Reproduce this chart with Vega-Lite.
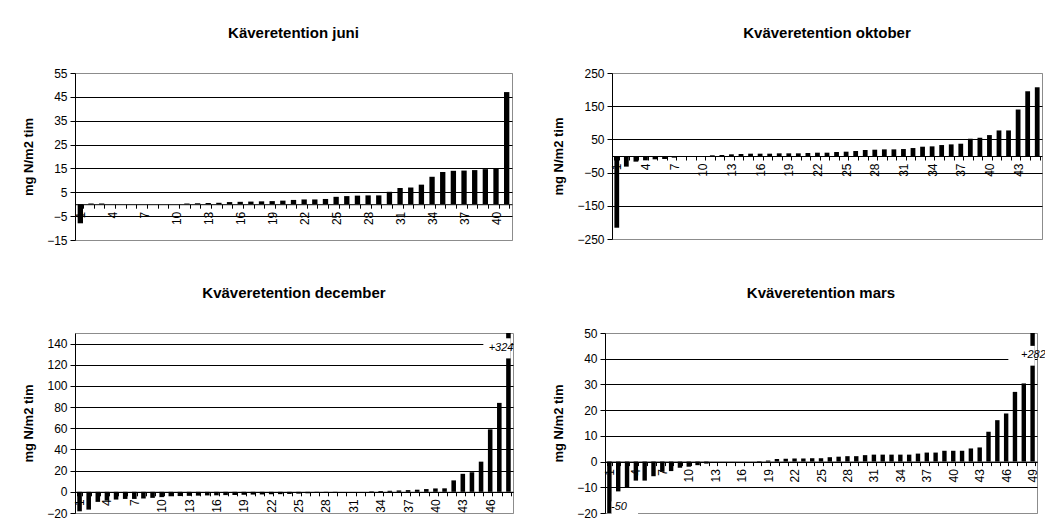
{
  "$schema": "https://vega.github.io/schema/vega-lite/v6.json",
  "padding": {"left": 22, "top": 25, "right": 0, "bottom": 0},
  "spacing": 38,
  "datasets": {
    "juni": [
      {"n":1,"v":-8},{"n":2,"v":0.3},{"n":3,"v":0.3},{"n":4,"v":0},{"n":5,"v":0},{"n":6,"v":0},{"n":7,"v":0},{"n":8,"v":0},{"n":9,"v":0},{"n":10,"v":0},
      {"n":11,"v":0.3},{"n":12,"v":0.4},{"n":13,"v":0.5},{"n":14,"v":0.6},{"n":15,"v":0.9},{"n":16,"v":1.0},{"n":17,"v":1.1},{"n":18,"v":1.2},{"n":19,"v":1.3},{"n":20,"v":1.5},
      {"n":21,"v":1.8},{"n":22,"v":2.0},{"n":23,"v":2.0},{"n":24,"v":2.2},{"n":25,"v":3.1},{"n":26,"v":3.4},{"n":27,"v":3.6},{"n":28,"v":3.7},{"n":29,"v":3.7},{"n":30,"v":5.2},
      {"n":31,"v":6.8},{"n":32,"v":7.0},{"n":33,"v":8.2},{"n":34,"v":11.5},{"n":35,"v":13.5},{"n":36,"v":14.0},{"n":37,"v":14.1},{"n":38,"v":14.3},{"n":39,"v":14.7},{"n":40,"v":15.0},
      {"n":41,"v":47}
    ],
    "oktober": [
      {"n":1,"v":-216},{"n":2,"v":-32},{"n":3,"v":-17},{"n":4,"v":-13},{"n":5,"v":-10},{"n":6,"v":-9},{"n":7,"v":-5},{"n":8,"v":-1},{"n":9,"v":0},{"n":10,"v":0},
      {"n":11,"v":2},{"n":12,"v":3},{"n":13,"v":5},{"n":14,"v":6},{"n":15,"v":7},{"n":16,"v":7},{"n":17,"v":7},{"n":18,"v":8},{"n":19,"v":8},{"n":20,"v":8},
      {"n":21,"v":9},{"n":22,"v":10},{"n":23,"v":10},{"n":24,"v":12},{"n":25,"v":13},{"n":26,"v":15},{"n":27,"v":18},{"n":28,"v":19},{"n":29,"v":20},{"n":30,"v":20},
      {"n":31,"v":21},{"n":32,"v":24},{"n":33,"v":28},{"n":34,"v":29},{"n":35,"v":33},{"n":36,"v":35},{"n":37,"v":37},{"n":38,"v":52},{"n":39,"v":55},{"n":40,"v":63},
      {"n":41,"v":77},{"n":42,"v":77},{"n":43,"v":140},{"n":44,"v":195},{"n":45,"v":207}
    ],
    "december": [
      {"n":1,"v":-18.4},{"n":2,"v":-16.8},{"n":3,"v":-9.5},{"n":4,"v":-8.3},{"n":5,"v":-7.3},{"n":6,"v":-6.7},{"n":7,"v":-6.7},{"n":8,"v":-6.3},{"n":9,"v":-5.7},{"n":10,"v":-5.0},
      {"n":11,"v":-4.2},{"n":12,"v":-4.0},{"n":13,"v":-3.8},{"n":14,"v":-3.6},{"n":15,"v":-3.4},{"n":16,"v":-3.3},{"n":17,"v":-3.1},{"n":18,"v":-3.0},{"n":19,"v":-2.8},{"n":20,"v":-2.6},
      {"n":21,"v":-2.5},{"n":22,"v":-2.3},{"n":23,"v":-2.2},{"n":24,"v":-2.0},{"n":25,"v":-1.7},{"n":26,"v":-1.4},{"n":27,"v":-1.1},{"n":28,"v":-0.7},{"n":29,"v":-0.3},{"n":30,"v":0},
      {"n":31,"v":0},{"n":32,"v":0},{"n":33,"v":0.5},{"n":34,"v":0.8},{"n":35,"v":1.0},{"n":36,"v":1.3},{"n":37,"v":1.6},{"n":38,"v":2.0},{"n":39,"v":2.6},{"n":40,"v":3.2},
      {"n":41,"v":3.3},{"n":42,"v":10.8},{"n":43,"v":17},{"n":44,"v":18.5},{"n":45,"v":28.5},{"n":46,"v":59},{"n":47,"v":84},{"n":48,"v":324}
    ],
    "mars": [
      {"n":1,"v":-50},{"n":2,"v":-11.6},{"n":3,"v":-10},{"n":4,"v":-7.4},{"n":5,"v":-7.4},{"n":6,"v":-5.7},{"n":7,"v":-4.0},{"n":8,"v":-3.7},{"n":9,"v":-2.4},{"n":10,"v":-2.0},
      {"n":11,"v":-1.4},{"n":12,"v":-0.8},{"n":13,"v":0},{"n":14,"v":0},{"n":15,"v":0},{"n":16,"v":0},{"n":17,"v":0},{"n":18,"v":0.2},{"n":19,"v":0.4},{"n":20,"v":1.0},
      {"n":21,"v":1.1},{"n":22,"v":1.2},{"n":23,"v":1.2},{"n":24,"v":1.3},{"n":25,"v":1.3},{"n":26,"v":1.7},{"n":27,"v":1.9},{"n":28,"v":2.1},{"n":29,"v":2.1},{"n":30,"v":2.5},
      {"n":31,"v":2.7},{"n":32,"v":2.7},{"n":33,"v":2.7},{"n":34,"v":2.7},{"n":35,"v":2.7},{"n":36,"v":3.1},{"n":37,"v":3.5},{"n":38,"v":3.5},{"n":39,"v":4.2},{"n":40,"v":4.2},
      {"n":41,"v":4.2},{"n":42,"v":5.1},{"n":43,"v":5.5},{"n":44,"v":11.6},{"n":45,"v":16.1},{"n":46,"v":18.7},{"n":47,"v":27.1},{"n":48,"v":30.4},{"n":49,"v":282}
    ],
    "decMask": [{"n":45,"n2":48,"v":126,"v2":145}],
    "decText": [{"n":48,"v":136,"t":"+324"}],
    "marsMask": [{"n":46,"n2":49,"v":37.3,"v2":45},{"n":1,"n2":4,"v":-21,"v2":-15.5}],
    "marsText": [{"n":49,"v":41.5,"t":"+282"},{"n":2,"v":-17.8,"t":"-50"}]
  },
  "vconcat": [
    {
      "spacing": 38,
      "hconcat": [
        {
          "width": 437, "height": 167,
          "title": {"text": "Käveretention juni", "offset": 26},
          "data": {"name": "juni"},
          "mark": {"type": "bar", "clip": true},
          "encoding": {
            "x": {"field": "n", "type": "ordinal", "scale": {"paddingInner": 0.5, "paddingOuter": 0.25},
              "axis": {"title": null, "labelAngle": -90, "labelExpr": "(datum.value - 1) % 3 == 0 ? datum.label : ''", "tickBand": "extent", "tickSize": 4, "labelPadding": 3, "offset": -35.8, "labelOverlap": false, "labelFlush": false}},
            "y": {"field": "v", "type": "quantitative", "scale": {"domain": [-15, 55], "nice": false},
              "axis": {"title": "mg N/m2 tim", "labelOverlap": false, "values": [-15, -5, 5, 15, 25, 35, 45, 55], "gridColor": {"condition": {"test": "datum.value == 55 || datum.value == -15", "value": "#8c8c8c"}, "value": "black"}}}
          }
        },
        {
          "width": 430, "height": 166,
          "title": {"text": "Kväveretention oktober", "offset": 26},
          "data": {"name": "oktober"},
          "mark": {"type": "bar", "clip": true},
          "encoding": {
            "x": {"field": "n", "type": "ordinal", "scale": {"paddingInner": 0.5, "paddingOuter": 0.25},
              "axis": {"title": null, "labelAngle": -90, "labelExpr": "(datum.value - 1) % 3 == 0 ? datum.label : ''", "tickBand": "extent", "tickSize": 4, "labelPadding": 3, "offset": -83, "labelOverlap": false, "labelFlush": false}},
            "y": {"field": "v", "type": "quantitative", "scale": {"domain": [-250, 250], "nice": false},
              "axis": {"title": "mg N/m2 tim", "labelOverlap": false, "values": [-250, -150, -50, 50, 150, 250], "gridColor": {"condition": {"test": "datum.value == 250 || datum.value == -250", "value": "#8c8c8c"}, "value": "black"}}}
          }
        }
      ]
    },
    {
      "spacing": 37,
      "hconcat": [
        {
          "width": 438, "height": 180,
          "title": {"text": "Kväveretention december", "offset": 32},
          "encoding": {
            "x": {"field": "n", "type": "ordinal", "scale": {"paddingInner": 0.5, "paddingOuter": 0.25},
              "axis": {"title": null, "labelAngle": -90, "labelExpr": "(datum.value - 1) % 3 == 0 ? datum.label : ''", "tickBand": "extent", "tickSize": 4, "labelPadding": 3, "offset": -21.2, "labelOverlap": false, "labelFlush": false}},
            "y": {"field": "v", "type": "quantitative", "scale": {"domain": [-20, 150], "nice": false},
              "axis": {"title": "mg N/m2 tim", "labelOverlap": false, "values": [-20, 0, 20, 40, 60, 80, 100, 120, 140], "gridColor": {"condition": {"test": "datum.value == -20", "value": "#8c8c8c"}, "value": "black"}}}
          },
          "layer": [
            {
              "data": {"name": "december"},
              "mark": {"type": "bar", "clip": true}
            },
            {
              "data": {"name": "decMask"},
              "mark": {"type": "rect", "color": "white"},
              "encoding": {
                "x": {"field": "n", "type": "ordinal", "bandPosition": 1,
                  "axis": {"title": null, "labelAngle": -90, "labelExpr": "(datum.value - 1) % 3 == 0 ? datum.label : ''", "tickBand": "extent", "tickSize": 4, "labelPadding": 3, "offset": -21.2, "labelOverlap": false, "labelFlush": false}},
                "x2": {"field": "n2", "bandPosition": 1},
                "y2": {"field": "v2"}
              }
            },
            {
              "data": {"name": "decText"},
              "mark": {"type": "text", "align": "right", "baseline": "middle", "dx": 5, "fontStyle": "italic", "fontSize": 11},
              "encoding": {"text": {"field": "t"}}
            }
          ]
        },
        {
          "width": 432, "height": 180,
          "title": {"text": "Kväveretention mars", "offset": 26},
          "encoding": {
            "x": {"field": "n", "type": "ordinal", "scale": {"paddingInner": 0.5, "paddingOuter": 0.25},
              "axis": {"title": null, "labelAngle": -90, "labelExpr": "(datum.value - 1) % 3 == 0 ? datum.label : ''", "tickBand": "extent", "tickSize": 4, "labelPadding": 3, "offset": -51.4, "labelOverlap": false, "labelFlush": false}},
            "y": {"field": "v", "type": "quantitative", "scale": {"domain": [-20, 50], "nice": false},
              "axis": {"title": "mg N/m2 tim", "labelOverlap": false, "values": [-20, -10, 0, 10, 20, 30, 40, 50], "gridColor": {"condition": {"test": "datum.value == -20 || datum.value == 50", "value": "#8c8c8c"}, "value": "black"}}}
          },
          "layer": [
            {
              "data": {"name": "mars"},
              "mark": {"type": "bar", "clip": true}
            },
            {
              "data": {"name": "marsMask"},
              "mark": {"type": "rect", "color": "white"},
              "encoding": {
                "x": {"field": "n", "type": "ordinal", "bandPosition": 1,
                  "axis": {"title": null, "labelAngle": -90, "labelExpr": "(datum.value - 1) % 3 == 0 ? datum.label : ''", "tickBand": "extent", "tickSize": 4, "labelPadding": 3, "offset": -51.4, "labelOverlap": false, "labelFlush": false}},
                "x2": {"field": "n2", "bandPosition": 1},
                "y2": {"field": "v2"}
              }
            },
            {
              "data": {"name": "marsText"},
              "mark": {"type": "text", "baseline": "middle", "fontStyle": "italic", "fontSize": 11},
              "encoding": {
                "text": {"field": "t"},
                "align": {"condition": {"test": "datum.n == 49", "value": "right"}, "value": "left"},
                "xOffset": {"condition": {"test": "datum.n == 49", "value": 4}, "value": 3}
              }
            }
          ]
        }
      ]
    }
  ],
  "config": {
    "font": "Liberation Sans",
    "view": {"stroke": "#8c8c8c", "strokeWidth": 1},
    "bar": {"color": "black"},
    "title": {"font": "Liberation Sans", "fontSize": 15, "fontWeight": "bold", "color": "black", "anchor": "middle"},
    "axis": {"labelFont": "Liberation Sans", "labelFontSize": 12, "labelColor": "black", "tickColor": "black", "tickSize": 5, "domainColor": "black", "titleFont": "Liberation Sans", "titleFontSize": 13, "titleFontWeight": "bold", "titleColor": "black", "titlePadding": 11, "labelPadding": 3},
    "axisY": {"grid": true, "gridWidth": 1, "labelOverlap": false},
    "axisX": {"grid": false}
  }
}
